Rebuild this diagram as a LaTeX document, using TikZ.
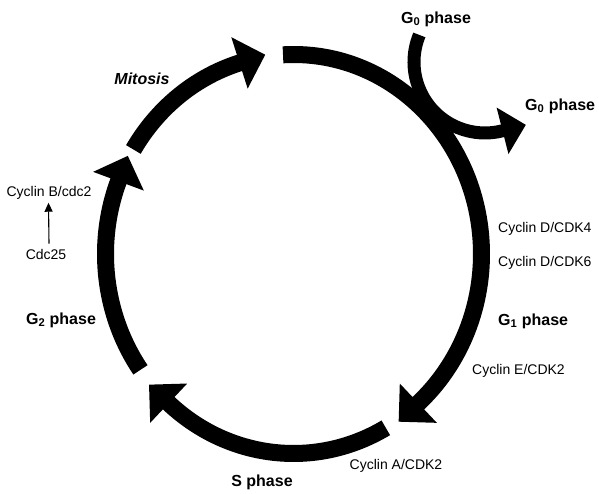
\documentclass[tikz,border=0pt]{standalone}
\usepackage{fontspec}
\setmainfont{Liberation Sans}
\usetikzlibrary{arrows.meta}

% #1 cx, #2 cy, #3 rx, #4 ry, #5 start angle, #6 base angle, #7 shaft width, #8 head length, #9 head width
\newcommand{\cyclearrow}[9]{%
  \pgfmathsetmacro{\sgn}{sign(#6-#5)}%
  \pgfmathsetmacro{\bx}{#1+#3*cos(#6)}%
  \pgfmathsetmacro{\by}{#2+#4*sin(#6)}%
  \pgfmathsetmacro{\tx}{-\sgn*sin(#6)}%
  \pgfmathsetmacro{\ty}{\sgn*(#4/#3)*cos(#6)}%
  \pgfmathsetmacro{\tn}{sqrt(\tx*\tx+\ty*\ty)}%
  \pgfmathsetmacro{\ux}{\tx/\tn}%
  \pgfmathsetmacro{\uy}{\ty/\tn}%
  \pgfmathsetmacro{\hw}{#9/2}%
  \pgfmathsetmacro{\endang}{#6+\sgn*0.6}%
  \draw[line width=#7pt] ({#1+#3*cos(#5)},{#2+#4*sin(#5)})
     arc[start angle=#5,end angle=\endang,x radius=#3,y radius=#4];
  \fill ({\bx+#8*\ux},{\by+#8*\uy}) -- ({\bx-\hw*\uy},{\by+\hw*\ux})
        -- ({\bx+\hw*\uy},{\by-\hw*\ux}) -- cycle;
}

\tikzset{
  lab/.style={inner sep=0pt, font=\fontsize{14}{16}\selectfont},
  phase/.style={inner sep=0pt, font=\fontsize{16}{18}\selectfont\bfseries},
  thinarrow/.style={line width=1.1pt, -{Triangle[length=9pt,width=8pt]}}
}

\begin{document}
\begin{tikzpicture}[x=1pt,y=-1pt]
\useasboundingbox[fill=white] (0,0) rectangle (599,494);

% main cycle (centre 293.5,254; radii 188 x 199.5)
\cyclearrow{293.5}{254}{188}{199.5}{-93.2}{48.4}{17}{27}{54}   % G1
\cyclearrow{293.5}{254}{188}{199.5}{60.6}{131.6}{17}{27}{54}   % S
\cyclearrow{293.5}{254}{188}{199.5}{144.5}{201.4}{17}{27}{54}  % G2
\cyclearrow{293.5}{254}{188}{199.5}{211.6}{253.3}{17}{27}{54}  % Mitosis

% G0 exit arrow
\cyclearrow{485}{62}{71}{71}{202.4}{75.7}{13}{24}{48}

% labels
\node[phase] (g0top) at (436,19) {G\textsubscript{0} phase};
\node[phase, anchor=west] (g0right) at (525,106) {G\textsubscript{0} phase};
\node[phase, font=\fontsize{16}{18}\selectfont\bfseries\itshape] (mitosis) at (142,79) {Mitosis};
\node[lab] (cycB) at (49,193) {Cyclin B/cdc2};
\node[lab] (cdc25) at (46,254) {Cdc25};
\draw[thinarrow] ([xshift=3pt,yshift=5pt]cdc25.north) -- ([xshift=-0.5pt,yshift=-3pt]cycB.south);
\node[phase] (g2) at (61,320) {G\textsubscript{2} phase};
\node[lab, anchor=west] (cycD4) at (498,229) {Cyclin D/CDK4};
\node[lab, anchor=west] (cycD6) at (498,263) {Cyclin D/CDK6};
\node[phase, anchor=west] (g1) at (498,321) {G\textsubscript{1} phase};
\node[lab, anchor=west] (cycE) at (472,371) {Cyclin E/CDK2};
\node[lab] (cycA) at (396,466) {Cyclin A/CDK2};
\node[phase] (sph) at (262,482) {S phase};
\end{tikzpicture}
\end{document}
